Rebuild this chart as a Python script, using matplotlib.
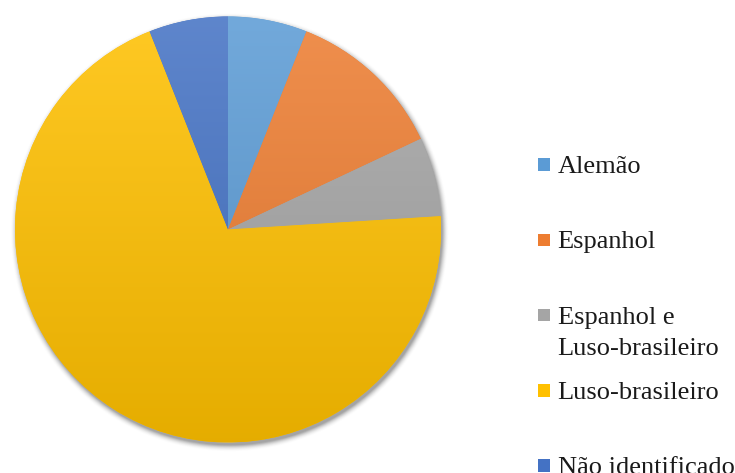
import matplotlib
matplotlib.use('Agg')
import matplotlib.pyplot as plt
import matplotlib.colors as mcolors
from matplotlib.patches import Rectangle
import numpy as np

categories = ['Alemão', 'Espanhol', 'Espanhol e\nLuso-brasileiro', 'Luso-brasileiro', 'Não identificado']
shares = [6, 12, 6, 70, 6]
colors = ['#5B9BD5', '#ED7D31', '#A5A5A5', '#FFC000', '#4472C4']

W, H = 735, 473
fig = plt.figure(figsize=(W / 100, H / 100), dpi=100)
fig.patch.set_facecolor('white')

# pie placement in pixels
cx, cy, R, pad = 228, 229.5, 213, 14
lim = (R + pad) / R
ax = fig.add_axes([(cx - R - pad) / W, (H - cy - R - pad) / H,
                   2 * (R + pad) / W, 2 * (R + pad) / H])

wedges, _ = ax.pie(shares, colors=colors, startangle=90, counterclock=False,
                   radius=1, wedgeprops=dict(edgecolor='none', linewidth=0))
ax.set_aspect('equal')
ax.axis('off')

# soft drop shadow under the pie
n = 500
xs = np.linspace(-lim, lim, n)
X, Y = np.meshgrid(xs, xs[::-1])
rr = np.hypot(X - 0.008, Y + 0.016)
spread = 7 / R
fall = np.clip(1 - (rr - 1) / spread, 0, 1) ** 2
shadow = np.zeros((n, n, 4))
shadow[..., :3] = 0.35
shadow[..., 3] = 0.55 * fall
ax.imshow(shadow, extent=(-lim, lim, -lim, lim), zorder=0, interpolation='bilinear')
for w in wedges:
    w.set_zorder(1)

# vertical shading on each slice: lighter on top, darker at bottom
t = np.linspace(0, 1, 256)[:, None]
for w, c in zip(wedges, colors):
    base = np.array(mcolors.to_rgb(c))
    light = base + (1 - base) * 0.14
    dark = base * 0.9
    grad = light[None, :] * (1 - t) + dark[None, :] * t
    img = np.repeat(grad[:, None, :], 2, axis=1)
    im = ax.imshow(img, extent=(-1, 1, -1, 1), zorder=2, interpolation='bilinear',
                   aspect='auto')
    im.set_clip_path(w)
ax.set_xlim(-lim, lim)
ax.set_ylim(-lim, lim)

# legend on the right, one baseline per text line
entry_y = [164.5, 239.8, 315.1, 390.4, 465.7]
sq = 12.5
line_h = 31.3
for label, c, yc in zip(categories, colors, entry_y):
    fig.patches.append(Rectangle((537.5 / W, (H - yc - sq / 2) / H), sq / W, sq / H,
                                 transform=fig.transFigure, facecolor=c,
                                 edgecolor='none'))
    for i, line in enumerate(label.split('\n')):
        base_y = yc + 8.5 + i * line_h
        fig.text(557.5 / W, (H - base_y) / H, line, fontsize=19,
                 family='Liberation Serif', color='#1a1a1a',
                 ha='left', va='baseline')

fig.savefig('out.png', dpi=100)
